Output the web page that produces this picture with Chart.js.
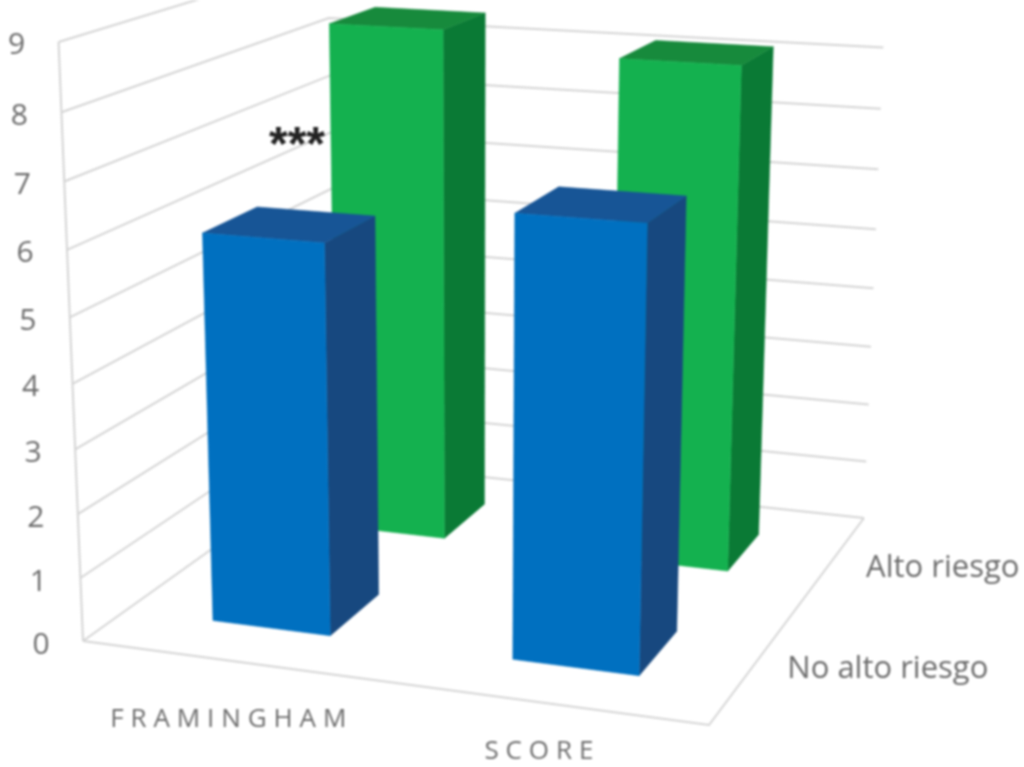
<!DOCTYPE html>
<html>
<head>
<meta charset="utf-8">
<title>Framingham / SCORE</title>
<script src="https://cdn.jsdelivr.net/npm/chart.js@4"></script>
<style>
  html, body { margin: 0; padding: 0; background: #fff; }
  canvas { display: block; filter: blur(0.9px); }
</style>
</head>
<body>
<canvas id="barChart" width="1024" height="767"></canvas>
<script>
const categories = ['FRAMINGHAM', 'SCORE'];
const seriesNames = ['No alto riesgo', 'Alto riesgo'];
const noAltoRiesgo = [6.05, 6.7];
const altoRiesgo = [8.45, 8.15];
const valueTicks = [0, 1, 2, 3, 4, 5, 6, 7, 8, 9];

const seriesColors = [
    { front: '#0070c0', side: '#17487f', top: '#175596' },
    { front: '#14b14f', side: '#0a7a35', top: '#178a3c' },
];
const gridColor = '#d4d4d4';
const textColor = '#6c6c6c';
const labelFont = '"Open Sans", sans-serif';
const barShare = 0.4; // share of a floor cell taken by the bar

// floor corners of the 3D box, in picture units
const floor = { fl: [83, 641], fr: [709, 725], br: [864, 518], bl: [335, 461] };
// the vertical lines meet far below the picture
const vertical = { x: 470, y: 10127, scale: -0.0066 };

function buildCamera() {
    const { fl, fr, br, bl } = floor;
    const dx1 = fr[0] - br[0], dx2 = bl[0] - br[0], sx = fl[0] - fr[0] + br[0] - bl[0];
    const dy1 = fr[1] - br[1], dy2 = bl[1] - br[1], sy = fl[1] - fr[1] + br[1] - bl[1];
    const den = dx1 * dy2 - dx2 * dy1;
    const g = (sx * dy2 - dx2 * sy) / den;
    const h = (dx1 * sy - sx * dy1) / den;
    return {
        g, h,
        a1: fr[0] - fl[0] + g * fr[0], a2: bl[0] - fl[0] + h * bl[0],
        b1: fr[1] - fl[1] + g * fr[1], b2: bl[1] - fl[1] + h * bl[1],
    };
}
const cam = buildCamera();

// u = along categories, w = along series (both 0..1), v = chart value
function project(u, w, v) {
    const c = vertical.scale;
    const d = 1 + cam.g * u + cam.h * w + v * c;
    return {
        x: (floor.fl[0] + cam.a1 * u + cam.a2 * w + v * c * vertical.x) / d,
        y: (floor.fl[1] + cam.b1 * u + cam.b2 * w + v * c * vertical.y) / d,
    };
}

function lineSet(points) {
    return {
        type: 'line', data: points, showLine: true, fill: false,
        borderColor: gridColor, borderWidth: 2, pointRadius: 0, tension: 0, clip: false,
    };
}

function faceSet(corners, color) {
    const points = corners.map(c => project(c[0], c[1], c[2]));
    points.push(points[0]);
    return {
        type: 'line', data: points, showLine: true, fill: 'shape',
        backgroundColor: color, borderColor: color, borderWidth: 0.5,
        pointRadius: 0, tension: 0, clip: false,
    };
}

function barFaces(catIndex, seriesIndex, value) {
    const half = barShare / 2 / categories.length;
    const uc = (catIndex + 0.5) / categories.length;
    const wc = (seriesIndex + 0.5) / seriesNames.length;
    const u0 = uc - half, u1 = uc + half, w0 = wc - half, w1 = wc + half;
    const col = seriesColors[seriesIndex];
    return [
        faceSet([[u1, w0, 0], [u1, w1, 0], [u1, w1, value], [u1, w0, value]], col.side),
        faceSet([[u0, w0, value], [u1, w0, value], [u1, w1, value], [u0, w1, value]], col.top),
        faceSet([[u0, w0, 0], [u1, w0, 0], [u1, w0, value], [u0, w0, value]], col.front),
    ];
}

// paint order: walls and floor, then the back row, then the front row
let paintList = [];
valueTicks.forEach(t => {
    paintList.push(lineSet([project(0, 0, t), project(0, 1, t), project(1, 1, t)]));
});
paintList.push(lineSet([project(0, 0, 0), project(0, 0, valueTicks[valueTicks.length - 1])]));
paintList.push(lineSet([project(0, 0, 0), project(1, 0, 0), project(1, 1, 0)]));
categories.forEach((c, i) => { paintList = paintList.concat(barFaces(i, 1, altoRiesgo[i])); });
categories.forEach((c, i) => { paintList = paintList.concat(barFaces(i, 0, noAltoRiesgo[i])); });

// text placed from the same projection, with its distance from the box
const categoryOffsets = [[1, 59], [-1, 49]];
const seriesOffsets = [[134, 4], [112, 6]];
const tickOffsetX = -42;

const textPlugin = {
    id: 'boxText',
    afterDatasetsDraw(chart) {
        const ctx = chart.ctx;
        const sx = chart.scales.x, sy = chart.scales.y;
        const put = (text, p, dx, dy) => {
            ctx.fillText(text, sx.getPixelForValue(p.x + dx), sy.getPixelForValue(p.y + dy));
        };
        ctx.save();
        ctx.textAlign = 'center';
        ctx.textBaseline = 'middle';
        ctx.fillStyle = textColor;

        ctx.font = '30px ' + labelFont;
        valueTicks.forEach(t => {
            put(String(t), project(0, 0, t), tickOffsetX, 4);
        });

        ctx.font = '26px ' + labelFont;
        ctx.letterSpacing = '6.9px';
        categories.forEach((name, i) => {
            put(name, project((i + 0.5) / categories.length, 0, 0), categoryOffsets[i][0], categoryOffsets[i][1]);
        });
        ctx.letterSpacing = '0px';

        ctx.font = '31px ' + labelFont;
        seriesNames.forEach((name, i) => {
            put(name, project(1, (i + 0.5) / seriesNames.length, 0), seriesOffsets[i][0], seriesOffsets[i][1]);
        });

        // significance mark next to the tall Framingham bar
        ctx.fillStyle = '#222';
        ctx.font = 'bold 48px "Liberation Sans", sans-serif';
        ctx.fillText('***', sx.getPixelForValue(297), sy.getPixelForValue(147));
        ctx.restore();
    },
};

const ctx = document.getElementById('barChart').getContext('2d');
new Chart(ctx, {
    type: 'scatter',
    data: { datasets: paintList.reverse() }, // first dataset is painted last
    options: {
        responsive: false,
        animation: false,
        layout: { padding: 0 },
        plugins: { legend: { display: false }, tooltip: { enabled: false } },
        scales: {
            x: { type: 'linear', display: false, min: 0, max: 1024 },
            y: { type: 'linear', display: false, min: 0, max: 767, reverse: true },
        },
    },
    plugins: [textPlugin],
});
</script>
</body>
</html>
